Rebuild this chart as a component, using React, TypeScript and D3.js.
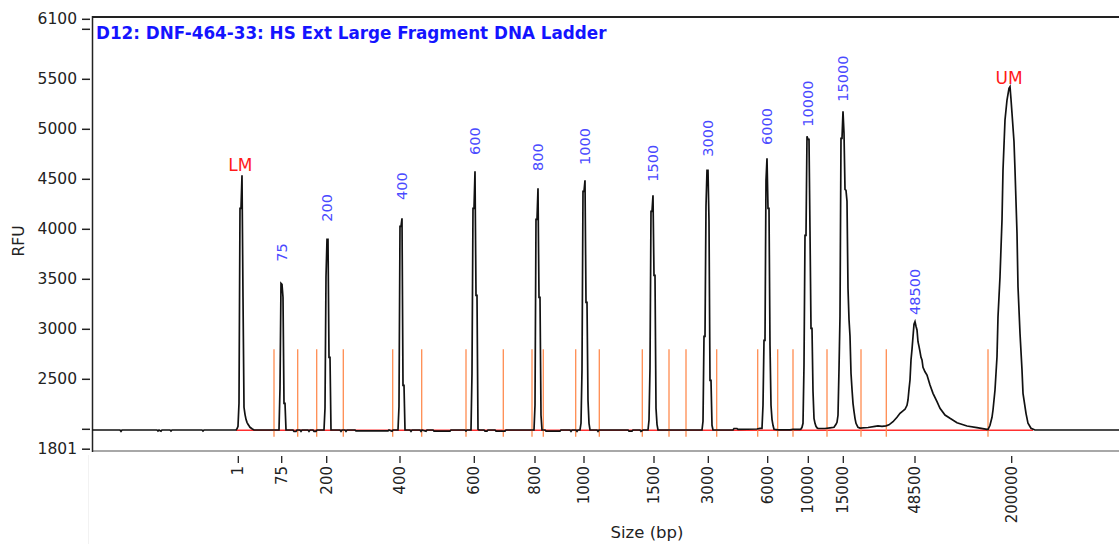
import React from "react";
import * as d3 from "d3";

// Electropherogram trace: [migration time (s), RFU]
const trace: [number, number][] = [
  [9.2, 1993], [12.0, 1993], [12.1, 1980], [12.2, 1993], [15.7, 1993], [15.8, 1982], [15.9, 1993],
  [16.1, 1982], [16.2, 1993], [17.0, 1993], [17.1, 1982], [17.2, 1993], [20.2, 1993], [20.3, 1982], [20.4, 1993],
  // LM
  [23.6, 1993], [23.7, 2005], [23.8, 2030], [23.9, 2260], [24.0, 4210], [24.1, 4210], [24.2, 4540], [24.3, 3320],
  [24.4, 2220], [24.5, 2150], [24.6, 2100], [24.7, 2070], [24.8, 2050], [24.9, 2035], [25.0, 2020], [25.2, 2005], [25.4, 1993],
  // 75
  [27.9, 1993], [28.0, 2410], [28.1, 3460], [28.2, 3450], [28.3, 3320], [28.4, 2260], [28.5, 2260], [28.6, 1993],
  [29.3, 1993], [29.4, 1978], [29.6, 1978], [29.7, 1993], [30.0, 1993], [30.1, 1980], [30.2, 1993],
  [30.8, 1993], [30.9, 1980], [31.0, 1993], [31.3, 1993], [31.4, 1980], [31.6, 1980], [31.7, 1993],
  // 200
  [32.4, 1993], [32.5, 2210], [32.6, 3520], [32.7, 3900], [32.8, 3900], [32.9, 2720], [33.0, 2720], [33.1, 1993],
  [34.0, 1993], [34.1, 1980], [34.2, 1993], [34.5, 1993], [34.6, 1980], [34.7, 1993],
  [35.5, 1993], [35.6, 1984], [38.8, 1984], [38.9, 1993], [39.2, 1980], [39.3, 1993],
  // 400
  [39.8, 1993], [39.9, 2230], [40.0, 4030], [40.1, 4030], [40.2, 4110], [40.3, 2440], [40.4, 2440], [40.5, 1993],
  [41.0, 1993], [41.1, 1980], [41.2, 1993], [42.0, 1993], [42.1, 1980], [42.2, 1993], [42.6, 1980], [42.7, 1993],
  [43.3, 1993], [43.4, 1982], [45.0, 1982], [45.1, 1993], [46.5, 1993], [46.6, 1982], [46.7, 1993],
  // 600
  [47.1, 1993], [47.2, 2560], [47.3, 4210], [47.4, 4210], [47.5, 4580], [47.6, 3340], [47.7, 3340], [47.8, 2000], [47.9, 1993],
  [48.4, 1993], [48.5, 1982], [48.7, 1982], [48.8, 1993], [49.5, 1993], [49.6, 1982], [50.5, 1982], [50.6, 1993],
  // 800
  [53.4, 1993], [53.5, 2240], [53.6, 4100], [53.7, 4100], [53.8, 4410], [53.9, 3320], [54.0, 3320], [54.1, 2140], [54.2, 1993],
  [54.5, 1993], [54.6, 1982], [56.0, 1982], [56.1, 1993], [57.0, 1993], [57.1, 1980], [57.2, 1993],
  [57.6, 1993], [57.7, 1980], [57.8, 1993],
  // 1000
  [58.0, 1993], [58.1, 2060], [58.2, 2590], [58.3, 4380], [58.4, 4380], [58.5, 4490], [58.6, 3270], [58.7, 3270],
  [58.8, 2290], [58.9, 2060], [59.0, 1993],
  [59.7, 1993], [59.8, 1980], [59.9, 1993], [62.8, 1993], [62.9, 1982], [63.2, 1982], [63.3, 1993],
  [64.0, 1993], [64.1, 1980], [64.3, 1993],
  // 1500
  [64.8, 1993], [64.9, 2090], [65.0, 2610], [65.1, 4180], [65.2, 4180], [65.3, 4340], [65.4, 3540], [65.5, 3540],
  [65.6, 2210], [65.7, 2050], [65.8, 1993],
  // 3000
  [70.2, 1993], [70.3, 2080], [70.4, 2930], [70.5, 2930], [70.6, 4230], [70.7, 4590], [70.8, 4590], [70.9, 4080],
  [71.0, 2490], [71.1, 2490], [71.2, 2040], [71.3, 1993],
  [73.3, 1993], [73.4, 2008], [73.7, 2008], [73.8, 2000], [75.7, 2003], [76.0, 2010],
  // 6000
  [76.2, 2010], [76.3, 2240], [76.4, 2890], [76.5, 2890], [76.6, 4490], [76.7, 4710], [76.8, 4210], [76.9, 4210],
  [77.0, 2840], [77.1, 2240], [77.2, 2100], [77.3, 2040], [77.4, 2000], [77.8, 1995], [79.0, 1995], [79.3, 2000], [80.0, 2000],
  // 10000
  [80.1, 2003], [80.2, 2020], [80.3, 2060], [80.4, 2640], [80.5, 3940], [80.6, 3940], [80.7, 4930], [80.8, 4900],
  [80.9, 4900], [81.0, 3980], [81.1, 3010], [81.2, 3010], [81.3, 2380], [81.4, 2110], [81.5, 2060], [81.6, 2030],
  [81.7, 2015], [81.8, 2008],
  // 15000
  [82.5, 2008], [83.0, 2015], [83.4, 2020], [83.6, 2050], [83.7, 2070], [83.8, 2140], [83.9, 2600], [84.0, 3130],
  [84.1, 4910], [84.2, 4910], [84.3, 5180], [84.4, 4960], [84.5, 4400], [84.6, 4390], [84.7, 4280], [84.8, 3410],
  [84.9, 3100], [85.0, 2930], [85.1, 2560], [85.2, 2400], [85.3, 2260], [85.4, 2180], [85.5, 2110], [85.6, 2060],
  [85.7, 2040], [85.8, 2020], [86.0, 2012],
  // 48500
  [86.8, 2018], [87.5, 2030], [87.8, 2035], [88.2, 2030], [88.6, 2035], [88.9, 2045], [89.3, 2076], [89.7, 2120],
  [90.0, 2160], [90.3, 2185], [90.5, 2200], [90.7, 2240], [90.8, 2293], [90.9, 2400], [91.0, 2493], [91.1, 2693],
  [91.2, 2800], [91.3, 2926], [91.4, 3050], [91.5, 3076], [91.6, 3030], [91.7, 2993], [91.8, 2876], [91.9, 2830],
  [92.0, 2776], [92.1, 2720], [92.2, 2693], [92.3, 2620], [92.5, 2575], [92.7, 2543], [93.0, 2443], [93.3, 2360],
  [93.7, 2276], [94.0, 2210], [94.5, 2143], [95.0, 2110], [95.7, 2066], [96.7, 2033], [97.7, 2016], [98.7, 2000],
  // UM
  [98.8, 1998], [99.0, 2040], [99.2, 2120], [99.3, 2193], [99.5, 2393], [99.7, 2726], [99.8, 3126], [100.0, 3526],
  [100.2, 4093], [100.3, 4593], [100.5, 5093], [100.7, 5293], [100.9, 5410], [101.0, 5426], [101.1, 5300],
  [101.2, 5160], [101.4, 4876], [101.5, 4593], [101.7, 3960], [101.8, 3426], [102.0, 2960], [102.2, 2593],
  [102.3, 2360], [102.6, 2160], [102.8, 2060], [103.1, 2010], [103.5, 1993], [111.9, 1993],
];

// Size axis ticks (bp) at migration times
const sizeTickLabels = ["1", "75", "200", "400", "600", "800", "1000", "1500", "3000", "6000", "10000", "15000", "48500", "200000"];
const sizeTickTimes = [23.83, 28.17, 32.67, 40.0, 47.43, 53.5, 58.4, 65.4, 70.83, 76.77, 80.83, 84.33, 91.5, 101.17];

// Ladder peak annotations
const peakLabels = ["75", "200", "400", "600", "800", "1000", "1500", "3000", "6000", "10000", "15000", "48500"];
const peakTimes = [28.2, 32.7, 40.15, 47.5, 53.75, 58.5, 65.3, 70.8, 76.7, 80.8, 84.3, 91.5];
const peakLabelRfu = [3676, 4076, 4293, 4743, 4583, 4643, 4476, 4726, 4843, 5026, 5276, 3143];

// Markers
const markerLabels = ["LM", "UM"];
const markerTimes = [24.03, 100.9];
const markerRfu = [4583, 5453];

// Peak boundary (integration) markers
const boundaryTimes = [27.4, 29.77, 31.67, 34.33, 39.27, 42.17, 46.6, 50.33, 53.2, 54.33, 57.57, 59.93, 64.23, 66.9, 68.6, 71.67, 75.77, 77.77, 79.3, 82.7, 86.1, 88.63, 98.8];
const boundaryRange = [1925, 2800];

// Baseline
const baselineRange = [23.6, 103.3];
const baselineRfu = 1990;

// Y axis
const yTicks = [1801, 2000, 2500, 3000, 3500, 4000, 4500, 5000, 5500, 6000, 6100];
const yTickLabels = ["1801", "", "2500", "3000", "3500", "4000", "4500", "5000", "5500", "", "6100"];

const title = "D12: DNF-464-33: HS Ext Large Fragment DNA Ladder";

export default function App() {
  const W = 1119;
  const H = 544;
  const left = 92.5;
  const x = d3.scaleLinear().domain([9.2, 111.9]).range([92, 1119]);
  const y = d3.scaleLinear().domain([1801, 6100]).range([449.2, 19.3]);
  const line = d3
    .line<[number, number]>()
    .x((d) => x(d[0]))
    .y((d) => y(d[1]));
  const font = "'DejaVu Sans', sans-serif";

  return (
    <div style={{ position: "absolute", left: 0, top: 0 }}>
      <svg width={W} height={H} style={{ display: "block", background: "#fff" }}>
        {/* faint guide */}
        <line x1={88.5} x2={88.5} y1={455} y2={544} stroke="#f2f2f2" strokeWidth={1} />
        {/* frame */}
        <line x1={left} x2={W} y1={17} y2={17} stroke="#222" strokeWidth={2} />
        <line x1={left} x2={W} y1={451} y2={451} stroke="#a8a8a8" strokeWidth={2} />
        <line x1={left} x2={left} y1={16} y2={452} stroke="#222" strokeWidth={1.5} />

        {/* y axis */}
        {yTicks.map((t, i) => (
          <g key={"yt" + i}>
            <line x1={82} x2={90} y1={y(t)} y2={y(t)} stroke="#222" strokeWidth={1.5} />
            {yTickLabels[i] && (
              <text x={77} y={y(t)} textAnchor="end" dominantBaseline="central" fontFamily={font} fontSize={15.5} fill="#222">
                {yTickLabels[i]}
              </text>
            )}
          </g>
        ))}
        <text transform={`translate(24,241) rotate(-90)`} textAnchor="middle" fontFamily={font} fontSize={15.5} fill="#222">
          RFU
        </text>

        {/* x axis */}
        {sizeTickTimes.map((t, i) => (
          <g key={"xt" + i}>
            <line x1={x(t)} x2={x(t)} y1={456} y2={463} stroke="#222" strokeWidth={1.3} />
            <text
              transform={`translate(${x(t)},466) rotate(-90)`}
              textAnchor="end"
              dominantBaseline="central"
              fontFamily={font}
              fontSize={15}
              fill="#222"
            >
              {sizeTickLabels[i]}
            </text>
          </g>
        ))}
        <text x={647} y={538} textAnchor="middle" fontFamily={font} fontSize={16.5} fill="#222">
          Size (bp)
        </text>

        {/* baseline */}
        <line x1={x(baselineRange[0])} x2={x(baselineRange[1])} y1={y(baselineRfu)} y2={y(baselineRfu)} stroke="#ff3030" strokeWidth={1.5} />

        {/* boundaries */}
        {boundaryTimes.map((t, i) => (
          <line key={"b" + i} x1={x(t)} x2={x(t)} y1={y(boundaryRange[0])} y2={y(boundaryRange[1])} stroke="#ff8c50" strokeWidth={1.3} />
        ))}

        {/* trace */}
        <path d={line(trace) ?? ""} fill="none" stroke="#111" strokeWidth={1.7} strokeLinejoin="miter" />

        {/* peak labels */}
        {peakLabels.map((l, i) => (
          <text
            key={"pl" + i}
            transform={`translate(${x(peakTimes[i])},${y(peakLabelRfu[i])}) rotate(-90)`}
            textAnchor="start"
            dominantBaseline="central"
            fontFamily={font}
            fontSize={14.5}
            fill="#4a4aff"
          >
            {l}
          </text>
        ))}
        {markerLabels.map((l, i) => (
          <text key={"m" + i} x={x(markerTimes[i])} y={y(markerRfu[i])} textAnchor="middle" fontFamily={font} fontSize={17} fill="#ff1a1a">
            {l}
          </text>
        ))}

        {/* title */}
        <text x={96} y={39} fontFamily="'DejaVu Sans', sans-serif" fontWeight="bold" fontSize={16.8} fill="#1414ff">
          {title}
        </text>
      </svg>
    </div>
  );
}
